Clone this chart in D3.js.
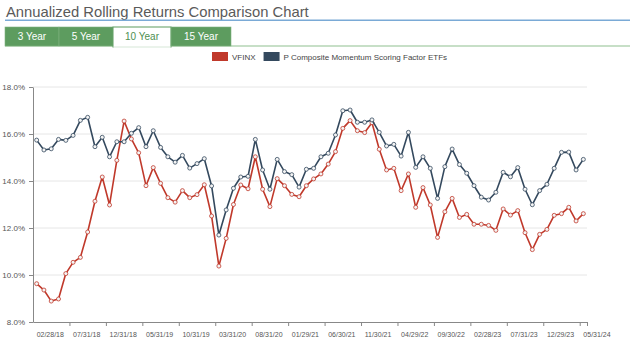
<!DOCTYPE html>
<html>
<head>
<meta charset="utf-8">
<script src="https://cdn.jsdelivr.net/npm/d3@7"></script>
<style>
  body { margin: 0; background: #fff; font-family: "Liberation Sans", Arial, sans-serif; }
  svg { display: block; }
</style>
</head>
<body>
<svg id="chart" width="630" height="353"></svg>
<script>
// month-end dates of the rolling windows
const dates = [
  '02/28/18','03/29/18','04/30/18','05/31/18','06/29/18','07/31/18','08/31/18','09/28/18','10/31/18','11/30/18','12/31/18',
  '01/31/19','02/28/19','03/29/19','04/30/19','05/31/19','06/28/19','07/31/19','08/30/19','09/30/19','10/31/19','11/29/19','12/31/19',
  '01/31/20','02/28/20','03/31/20','04/30/20','05/29/20','06/30/20','07/31/20','08/31/20','09/30/20','10/30/20','11/30/20','12/31/20',
  '01/29/21','02/26/21','03/31/21','04/30/21','05/28/21','06/30/21','07/30/21','08/31/21','09/30/21','10/29/21','11/30/21','12/31/21',
  '01/31/22','02/28/22','03/31/22','04/29/22','05/31/22','06/30/22','07/29/22','08/31/22','09/30/22','10/31/22','11/30/22','12/30/22',
  '01/31/23','02/28/23','03/31/23','04/28/23','05/31/23','06/30/23','07/31/23','08/31/23','09/29/23','10/31/23','11/30/23','12/29/23',
  '01/31/24','02/29/24','03/28/24','04/30/24','05/31/24'
];

const vfinx = [
  9.63, 9.36, 8.89, 8.98, 10.06, 10.54, 10.75, 11.83, 13.14, 14.17,
  12.98, 14.88, 16.55, 15.79, 15.20, 13.80, 14.57, 13.90, 13.29, 13.10,
  13.59, 13.29, 13.42, 13.84, 12.51, 10.38, 11.56, 13.00, 13.83, 13.67,
  15.03, 13.65, 12.91, 14.10, 13.80, 13.43, 13.33, 13.80, 14.09, 14.30,
  14.72, 15.25, 16.24, 16.57, 16.14, 16.06, 16.48, 15.35, 14.47, 14.54,
  13.59, 14.30, 12.88, 13.72, 12.98, 11.60, 12.69, 13.26, 12.45, 12.58,
  12.16, 12.16, 12.11, 11.90, 12.81, 12.55, 12.74, 11.80, 11.08, 11.73,
  11.94, 12.54, 12.61, 12.88, 12.30, 12.61
];

const momentum = [
  15.74, 15.32, 15.37, 15.77, 15.73, 15.94, 16.58, 16.71, 15.46, 15.86,
  15.03, 15.67, 15.67, 16.03, 16.27, 15.46, 16.14, 15.43, 15.03, 14.80,
  15.09, 14.55, 14.74, 14.95, 13.79, 11.70, 12.77, 13.69, 14.17, 14.20,
  15.77, 14.47, 13.65, 14.92, 14.40, 14.27, 13.74, 14.50, 14.54, 15.03,
  15.18, 15.96, 16.99, 17.02, 16.50, 16.50, 16.60, 16.07, 15.49, 15.56,
  15.06, 16.07, 14.58, 15.03, 14.54, 13.26, 14.61, 15.36, 14.70, 14.33,
  13.80, 13.31, 13.19, 13.52, 14.37, 14.18, 14.57, 13.65, 12.99, 13.59,
  13.86, 14.54, 15.22, 15.23, 14.47, 14.92
];

const tabs = ['3 Year', '5 Year', '10 Year', '15 Year'];
const activeTab = '10 Year';
const yTicks = [8, 10, 12, 14, 16, 18];

const series = [
  { name: 'VFINX', values: vfinx, color: '#c0392b' },
  { name: 'P Composite Momentum Scoring Factor ETFs', values: momentum, color: '#34495e' }
];

const svg = d3.select('#chart');
const W = 630;

// Title and underline
svg.append('text')
  .attr('x', 6).attr('y', 16.5)
  .attr('font-size', 14.8)
  .attr('fill', '#5a5a5a')
  .text('Annualized Rolling Returns Comparison Chart');

svg.append('rect')
  .attr('x', 5).attr('y', 19.5).attr('width', W - 5).attr('height', 1.5)
  .attr('fill', '#7aaad6');

// Tabs
const tabWidths = { '3 Year': [5, 59], '5 Year': [59, 113], '10 Year': [113, 171], '15 Year': [171, 231] };

svg.append('line')
  .attr('x1', 5).attr('x2', W).attr('y1', 46).attr('y2', 46)
  .attr('stroke', '#8fbf8f').attr('stroke-width', 1);

const tabG = svg.append('g');
tabs.forEach(t => {
  const [x0, x1] = tabWidths[t];
  const active = t === activeTab;
  tabG.append('rect')
    .attr('x', x0).attr('y', 27)
    .attr('width', x1 - x0).attr('height', active ? 20 : 19)
    .attr('fill', active ? '#fff' : '#5d9c5f')
    .attr('stroke', active ? '#5d9c5f' : '#7fb381')
    .attr('stroke-width', active ? 1 : 0.6);
  tabG.append('text')
    .attr('x', (x0 + x1) / 2).attr('y', 40)
    .attr('text-anchor', 'middle')
    .attr('font-size', 10)
    .attr('fill', active ? '#4e8f51' : '#fff')
    .text(t);
});
// hide the bottom border under the active tab
tabG.append('line')
  .attr('x1', tabWidths[activeTab][0] + 0.5).attr('x2', tabWidths[activeTab][1] - 0.5)
  .attr('y1', 47).attr('y2', 47)
  .attr('stroke', '#fff').attr('stroke-width', 1.5);

// Legend
const legend = svg.append('g').attr('transform', 'translate(212, 52)');
let lx = 0;
series.forEach(s => {
  legend.append('rect')
    .attr('x', lx).attr('y', 0).attr('width', 16).attr('height', 9)
    .attr('fill', s.color);
  const txt = legend.append('text')
    .attr('x', lx + 20).attr('y', 8)
    .attr('font-size', 8)
    .attr('fill', '#444')
    .text(s.name);
  lx += 20 + txt.node().getComputedTextLength() + 8;
});

// Plot area
const margin = { left: 33, right: 43, top: 87, bottom: 31 };
const plotBottom = 353 - margin.bottom;

const x = d3.scaleLinear()
  .domain([-0.5, dates.length - 0.5])
  .range([margin.left, W - margin.right]);

const y = d3.scaleLinear()
  .domain([8, 18])
  .range([plotBottom, margin.top]);

// Gridlines
svg.append('g')
  .selectAll('line')
  .data(yTicks.slice(1))
  .enter().append('line')
  .attr('x1', margin.left).attr('x2', W - margin.right)
  .attr('y1', d => y(d)).attr('y2', d => y(d))
  .attr('stroke', '#e6e6e6').attr('stroke-width', 1);

// Y axis
const yAxis = svg.append('g')
  .attr('transform', `translate(${margin.left},0)`)
  .call(d3.axisLeft(y).tickValues(yTicks).tickFormat(d => d.toFixed(1) + '%').tickSize(4).tickSizeOuter(0));
yAxis.select('.domain').attr('stroke', '#888');
yAxis.selectAll('.tick line').attr('stroke', '#888');
yAxis.selectAll('.tick text')
  .attr('font-family', '"Liberation Sans", Arial, sans-serif')
  .attr('font-size', 8).attr('fill', '#555').attr('dx', -1);

// X axis: ticks between groups of five months, labels start at their point
const xTickVals = d3.range(4.5, dates.length - 1, 5).concat([dates.length - 0.5]);
const xAxis = svg.append('g')
  .attr('transform', `translate(0,${plotBottom})`)
  .call(d3.axisBottom(x).tickValues(xTickVals).tickFormat('').tickSize(4).tickSizeOuter(0));
xAxis.select('.domain').attr('stroke', '#888');
xAxis.selectAll('.tick line').attr('stroke', '#888');

svg.append('g')
  .selectAll('text')
  .data(dates.map((d, i) => ({ d, i })).filter(o => o.i % 5 === 0))
  .enter().append('text')
  .attr('x', o => x(o.i))
  .attr('y', plotBottom + 14.5)
  .attr('font-size', 7)
  .attr('fill', '#555')
  .text(o => o.d);

// Lines and markers
const line = d3.line()
  .x((d, i) => x(i))
  .y(d => y(d));

series.forEach(s => {
  svg.append('path')
    .datum(s.values)
    .attr('fill', 'none')
    .attr('stroke', s.color)
    .attr('stroke-width', 1.6)
    .attr('stroke-linejoin', 'round')
    .attr('d', line);

  svg.append('g')
    .selectAll('circle')
    .data(s.values)
    .enter().append('circle')
    .attr('cx', (d, i) => x(i))
    .attr('cy', d => y(d))
    .attr('r', 2)
    .attr('fill', '#f4f4f4')
    .attr('stroke', s.color)
    .attr('stroke-width', 0.8);
});
</script>
</body>
</html>
